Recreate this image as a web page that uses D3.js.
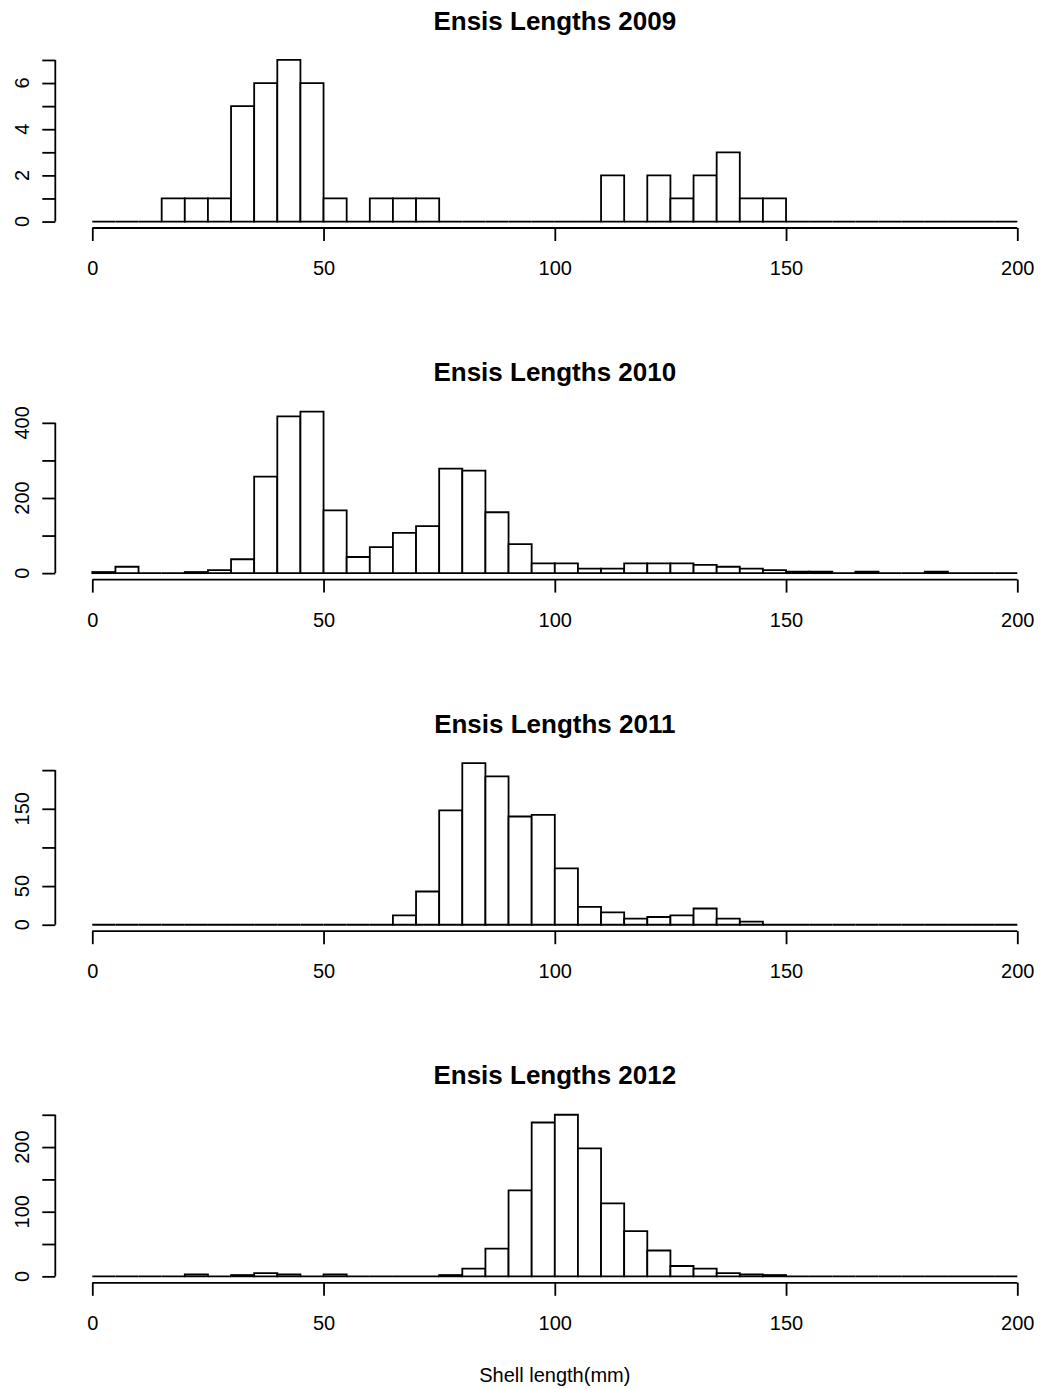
<!DOCTYPE html>
<html>
<head>
<meta charset="utf-8">
<script src="https://cdn.jsdelivr.net/npm/d3@7/dist/d3.min.js"></script>
<style>
  body { margin: 0; background: #fff; }
  svg { display: block; }
  text { font-family: "Liberation Sans", Arial, Helvetica, sans-serif; fill: #000; }
</style>
</head>
<body>
<svg id="chart" width="1048" height="1389"></svg>
<script>

// bin edges, 5 mm wide, 0..200
var breaks = d3.range(0, 201, 5);

var years = ["2009", "2010", "2011", "2012"];

// counts per 5 mm bin (40 bins)
var counts2009 = [0,0,0,1,1,1,5,6,7,6, 1,0,1,1,1,0,0,0,0,0, 0,0,2,0,2,1,2,3,1,1, 0,0,0,0,0,0,0,0,0,0];
var counts2010 = [3,17,0,0,3,8,37,257,417,430, 167,43,69,107,125,278,273,162,77,26, 26,12,12,26,26,26,22,17,12,8, 4,4,0,4,0,0,4,0,0,0];
var counts2011 = [0,0,0,0,0,0,0,0,0,0, 0,0,0,12,43,148,209,192,140,142, 73,23,16,8,10,12,21,8,4,0, 0,0,0,0,0,0,0,0,0,0];
var counts2012 = [0,0,0,0,3,0,2,5,3,0, 3,0,0,0,0,2,12,43,133,238, 250,198,113,70,40,16,12,5,3,2, 0,0,0,0,0,0,0,0,0,0];

// y ticks and the labels R kept
var yTicks2009 = [0,1,2,3,4,5,6,7],      yLabels2009 = [0,2,4,6];
var yTicks2010 = [0,100,200,300,400],    yLabels2010 = [0,200,400];
var yTicks2011 = [0,50,100,150,200],     yLabels2011 = [0,50,150];
var yTicks2012 = [0,50,100,150,200,250], yLabels2012 = [0,100,200];

var xTicks = [0, 50, 100, 150, 200];
var xTitle = "Shell length(mm)";

var panels = [
  {year: years[0], counts: counts2009, ticks: yTicks2009, labels: yLabels2009},
  {year: years[1], counts: counts2010, ticks: yTicks2010, labels: yLabels2010},
  {year: years[2], counts: counts2011, ticks: yTicks2011, labels: yLabels2011},
  {year: years[3], counts: counts2012, ticks: yTicks2012, labels: yLabels2012}
];

var svg = d3.select("#chart");

var left = 55.3, right = 1054.3,
    plotH = 174.5,
    firstBottom = 228, step = 351.6,
    lw = 1.8;

// x scale with R's 4% padding
var x = d3.scaleLinear().domain([-8, 208]).range([left, right]);

panels.forEach(function(p, i) {

  var bottom = firstBottom + i * step;
  var maxC = d3.max(p.counts);
  var y = d3.scaleLinear()
            .domain([-0.04 * maxC, 1.04 * maxC])
            .range([bottom, bottom - plotH]);

  var g = svg.append("g");

  // title
  g.append("text")
   .attr("x", (left + right) / 2)
   .attr("y", bottom - plotH - 24)
   .attr("text-anchor", "middle")
   .style("font-size", "26px")
   .style("font-weight", "bold")
   .text("Ensis Lengths " + p.year);

  // bars, as paths so empty bins still draw the base line
  g.selectAll("path.bar")
   .data(p.counts)
   .enter().append("path")
   .attr("class", "bar")
   .attr("d", function(d, j) {
      var x0 = x(breaks[j]), x1 = x(breaks[j + 1]), y0 = y(0), y1 = y(d);
      return "M" + x0 + "," + y0 + "V" + y1 + "H" + x1 + "V" + y0 + "Z";
   })
   .attr("fill", "#fff")
   .attr("stroke", "#000")
   .attr("stroke-width", lw);

  //========== x axis
  var xa = g.append("g")
            .attr("transform", "translate(0," + bottom + ")")
            .call(d3.axisBottom(x).tickValues(xTicks).tickSize(13).tickPadding(20));
  xa.select(".domain").remove();
  xa.append("line")
    .attr("x1", x(xTicks[0])).attr("x2", x(xTicks[xTicks.length - 1]))
    .attr("stroke", "#000");
  xa.selectAll("line").attr("stroke-width", lw);
  xa.selectAll("text").style("font-size", "20px").attr("fill", "#000");

  //========== y axis
  var ya = g.append("g")
            .attr("transform", "translate(" + left + ",0)")
            .call(d3.axisLeft(y).tickValues(p.ticks).tickSize(13).tickFormat(""));
  ya.select(".domain").remove();
  ya.append("line")
    .attr("y1", y(p.ticks[0])).attr("y2", y(p.ticks[p.ticks.length - 1]))
    .attr("stroke", "#000");
  ya.selectAll("line").attr("stroke-width", lw);

  g.selectAll("text.ylab")
   .data(p.labels)
   .enter().append("text")
   .attr("class", "ylab")
   .attr("transform", function(d) { return "translate(28.5," + y(d) + ") rotate(-90)"; })
   .attr("text-anchor", "middle")
   .style("font-size", "20px")
   .text(function(d) { return d; });

  if (i === panels.length - 1) {
    g.append("text")
     .attr("x", (left + right) / 2)
     .attr("y", 1382)
     .attr("text-anchor", "middle")
     .style("font-size", "20px")
     .text(xTitle);
  }
});

</script>
</body>
</html>
